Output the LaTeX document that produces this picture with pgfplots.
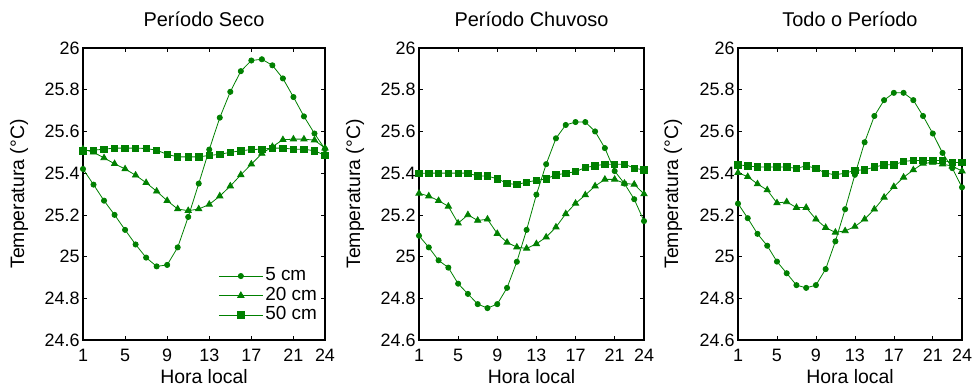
\documentclass[border=0pt]{standalone}
\usepackage{fontspec}
\setmainfont{Liberation Sans}
\usepackage{pgfplots}
\pgfplotsset{compat=1.18}
\definecolor{dg}{RGB}{0,128,0}
\pgfplotsset{
  legend image code/.code={\draw[mark repeat=2,mark phase=2,#1] plot coordinates {(0bp,0bp) (22bp,0bp) (44bp,0bp)};},
  panel/.style={
    scale only axis, height=292bp,
    xmin=1, xmax=24, ymin=24.6, ymax=26,
    xtick={1,5,9,13,17,21,24},
    ytick={24.6,24.8,25,25.2,25.4,25.6,25.8,26},
    tick align=inside, major tick length=4bp,
    tick style={black, line width=0.6bp},
    axis line style={line width=1.1bp},
    /pgf/number format/assume math mode=true,
    ticklabel style={font=\fontsize{18}{20}\selectfont},
    xticklabel style={anchor=base, yshift=-22bp},
    title style={font=\fontsize{20}{22}\selectfont, at={(0.5,1)}, anchor=base, yshift=16bp},
    xlabel style={font=\fontsize{19.5}{22}\selectfont, at={(axis description cs:0.5,0)}, anchor=base, yshift=-43bp},
    xlabel={Hora local}, ylabel={Temperatura (°C)},
    every axis plot/.append style={dg, line width=0.8bp},
  },
  s5/.style={mark=*, mark size=2.6bp},
  s20/.style={mark=triangle*, mark size=3.6bp},
  s50/.style={mark=square*, mark size=3.2bp},
}
\begin{document}
\begin{tikzpicture}
\path[use as bounding box] (0,0) rectangle (972bp,390bp);
% Panel 1
\begin{axis}[panel, width=242bp, at={(83bp,50bp)}, anchor=south west,
  title={Período Seco},
  ylabel style={font=\fontsize{19.5}{22}\selectfont, at={(axis description cs:-0.2645,0.5)}, anchor=center},
  legend cell align=left,
  legend style={draw=none, fill=none, at={(1,0)}, anchor=south east, xshift=-6bp, yshift=15bp,
    font=\fontsize{19}{21}\selectfont, row sep=0pt, inner sep=0pt,
    nodes={inner sep=2bp, text height=12.5bp, text depth=3bp}},
]
\addplot[s5] coordinates {(1,25.42)(2,25.345)(3,25.268)(4,25.2)(5,25.128)(6,25.058)(7,24.995)(8,24.953)(9,24.96)(10,25.044)(11,25.19)(12,25.35)(13,25.513)(14,25.666)(15,25.79)(16,25.889)(17,25.94)(18,25.946)(19,25.917)(20,25.854)(21,25.765)(22,25.672)(23,25.59)(24,25.515)};
\addplot[s20] coordinates {(1,25.515)(2,25.5)(3,25.473)(4,25.445)(5,25.42)(6,25.39)(7,25.354)(8,25.313)(9,25.268)(10,25.228)(11,25.22)(12,25.228)(13,25.25)(14,25.29)(15,25.338)(16,25.392)(17,25.443)(18,25.494)(19,25.527)(20,25.56)(21,25.563)(22,25.563)(23,25.558)(24,25.52)};
\addplot[s50] coordinates {(1,25.507)(2,25.51)(3,25.515)(4,25.52)(5,25.52)(6,25.52)(7,25.518)(8,25.51)(9,25.49)(10,25.478)(11,25.478)(12,25.478)(13,25.485)(14,25.49)(15,25.5)(16,25.507)(17,25.513)(18,25.515)(19,25.52)(20,25.52)(21,25.515)(22,25.515)(23,25.507)(24,25.486)};
\legend{5 cm, 20 cm, 50 cm}
\end{axis}
% Panel 2
\begin{axis}[panel, width=225bp, at={(419bp,50bp)}, anchor=south west,
  title={Período Chuvoso},
  ylabel style={font=\fontsize{19.5}{22}\selectfont, at={(axis description cs:-0.2845,0.5)}, anchor=center},
]
\addplot[s5] coordinates {(1,25.1)(2,25.044)(3,24.982)(4,24.947)(5,24.87)(6,24.821)(7,24.772)(8,24.753)(9,24.772)(10,24.85)(11,24.975)(12,25.128)(13,25.297)(14,25.443)(15,25.567)(16,25.631)(17,25.645)(18,25.645)(19,25.6)(20,25.52)(21,25.41)(22,25.35)(23,25.275)(24,25.17)};
\addplot[s20] coordinates {(1,25.303)(2,25.29)(3,25.268)(4,25.241)(5,25.16)(6,25.2)(7,25.173)(8,25.179)(9,25.11)(10,25.068)(11,25.045)(12,25.039)(13,25.061)(14,25.093)(15,25.141)(16,25.205)(17,25.255)(18,25.295)(19,25.338)(20,25.37)(21,25.37)(22,25.351)(23,25.346)(24,25.3)};
\addplot[s50] coordinates {(1,25.399)(2,25.4)(3,25.4)(4,25.4)(5,25.4)(6,25.4)(7,25.386)(8,25.386)(9,25.373)(10,25.351)(11,25.345)(12,25.357)(13,25.365)(14,25.373)(15,25.392)(16,25.399)(17,25.407)(18,25.427)(19,25.435)(20,25.443)(21,25.443)(22,25.443)(23,25.424)(24,25.415)};
\end{axis}
% Panel 3
\begin{axis}[panel, width=224bp, at={(738bp,50bp)}, anchor=south west,
  title={Todo o Período},
  ylabel style={font=\fontsize{19.5}{22}\selectfont, at={(axis description cs:-0.29,0.5)}, anchor=center},
]
\addplot[s5] coordinates {(1,25.254)(2,25.184)(3,25.109)(4,25.052)(5,24.976)(6,24.92)(7,24.863)(8,24.85)(9,24.863)(10,24.94)(11,25.073)(12,25.227)(13,25.392)(14,25.548)(15,25.674)(16,25.75)(17,25.785)(18,25.785)(19,25.75)(20,25.674)(21,25.59)(22,25.497)(23,25.424)(24,25.332)};
\addplot[s20] coordinates {(1,25.402)(2,25.383)(3,25.348)(4,25.319)(5,25.257)(6,25.262)(7,25.235)(8,25.235)(9,25.179)(10,25.139)(11,25.116)(12,25.123)(13,25.144)(14,25.179)(15,25.227)(16,25.284)(17,25.335)(18,25.38)(19,25.415)(20,25.447)(21,25.451)(22,25.443)(23,25.434)(24,25.41)};
\addplot[s50] coordinates {(1,25.44)(2,25.435)(3,25.429)(4,25.429)(5,25.429)(6,25.429)(7,25.423)(8,25.435)(9,25.423)(10,25.4)(11,25.392)(12,25.4)(13,25.413)(14,25.416)(15,25.429)(16,25.44)(17,25.44)(18,25.456)(19,25.461)(20,25.461)(21,25.461)(22,25.461)(23,25.451)(24,25.451)};
\end{axis}
\end{tikzpicture}
\end{document}
